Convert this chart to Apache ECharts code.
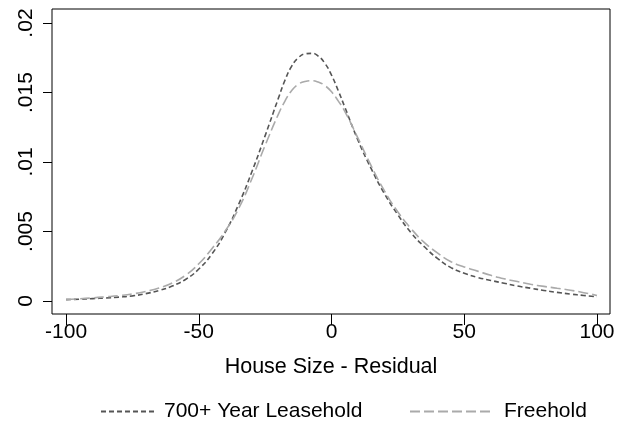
<!DOCTYPE html>
<html>
<head>
<meta charset="utf-8">
<script src="https://cdn.jsdelivr.net/npm/echarts@6/dist/echarts.min.js"></script>
<style>
  html, body { margin: 0; padding: 0; background: #fff; }
  #chart { width: 626px; height: 423px; }
</style>
</head>
<body>
<div id="chart"></div>
<script>
// residual grid (x) and kernel density values
const xValues = [-100, -95, -90, -85, -80, -75, -70, -65, -60, -55, -50, -45, -40, -35, -30, -25, -20, -17.5, -15, -12.5, -10, -7.5, -5, -2.5, 0, 2.5, 5, 10, 15, 20, 25, 30, 35, 40, 45, 50, 55, 60, 65, 70, 75, 80, 85, 90, 95, 100];
const leasehold = [0.00010, 0.00013, 0.00017, 0.00022, 0.00028, 0.00037, 0.00053, 0.00075, 0.00108, 0.00155, 0.00230, 0.00340, 0.00495, 0.00695, 0.00930, 0.01190, 0.01460, 0.01590, 0.01690, 0.01750, 0.01778, 0.01782, 0.01762, 0.01710, 0.01625, 0.01515, 0.01395, 0.01155, 0.00950, 0.00770, 0.00620, 0.00490, 0.00390, 0.00305, 0.00240, 0.00200, 0.00170, 0.00148, 0.00128, 0.00108, 0.00092, 0.00076, 0.00062, 0.00050, 0.00040, 0.00030];
const freehold = [0.00012, 0.00016, 0.00022, 0.00030, 0.00039, 0.00051, 0.00069, 0.00093, 0.00130, 0.00185, 0.00268, 0.00378, 0.00505, 0.00665, 0.00880, 0.01120, 0.01345, 0.01440, 0.01515, 0.01560, 0.01580, 0.01585, 0.01575, 0.01550, 0.01505, 0.01440, 0.01365, 0.01170, 0.00970, 0.00790, 0.00640, 0.00520, 0.00420, 0.00345, 0.00283, 0.00245, 0.00215, 0.00185, 0.00160, 0.00140, 0.00120, 0.00105, 0.00092, 0.00078, 0.00060, 0.00040];
const xTicks = [-100, -50, 0, 50, 100];
const yTicks = [0, 0.005, 0.01, 0.015, 0.02];
const yTickLabels = ["0", ".005", ".01", ".015", ".02"];

const font = "Liberation Sans";
const pair = (arr) => xValues.map((x, i) => [x, arr[i]]);

const chart = echarts.init(document.getElementById("chart"));
const legendText = { color: "#000", fontSize: 21, fontFamily: font, padding: [0, 0, 0, 5] };
const option = {
  animation: false,
  grid: {
    left: 52,
    right: 16,
    top: 9,
    bottom: 109,
    show: true,
    borderColor: "#000",
    borderWidth: 1,
    backgroundColor: "#fff",
  },
  xAxis: {
    type: "value",
    min: -105.3,
    max: 104.9,
    name: "House Size - Residual",
    nameLocation: "middle",
    nameGap: 42,
    nameTextStyle: { color: "#000", fontSize: 21.5, fontFamily: font },
    axisLine: { show: false, onZero: false },
    splitLine: { show: false },
    axisTick: {
      show: true,
      length: 11,
      lineStyle: { color: "#000", width: 1 },
      customValues: xTicks,
    },
    axisLabel: {
      color: "#000",
      fontSize: 21,
      fontFamily: font,
      margin: 8,
      customValues: xTicks,
    },
  },
  yAxis: {
    type: "value",
    min: -0.000935,
    max: 0.02101,
    axisLine: { show: false, onZero: false },
    splitLine: { show: false },
    axisTick: {
      show: true,
      length: 9,
      lineStyle: { color: "#000", width: 1 },
      customValues: yTicks,
    },
    axisLabel: {
      color: "#000",
      fontSize: 21,
      fontFamily: font,
      rotate: 90,
      margin: 15,
      customValues: yTicks,
      formatter: (v) => {
        const i = yTicks.findIndex((t) => Math.abs(t - v) < 1e-9);
        return i >= 0 ? yTickLabels[i] : "";
      },
    },
  },
  legend: [
    {
      data: ["700+ Year Leasehold"],
      left: 95,
      top: 396,
      itemWidth: 53,
      itemHeight: 14,
      itemStyle: { opacity: 0 },
      textStyle: legendText,
    },
    {
      data: ["Freehold"],
      left: 404,
      top: 396,
      itemWidth: 84,
      itemHeight: 14,
      itemStyle: { opacity: 0 },
      textStyle: legendText,
    },
  ],
  series: [
    {
      name: "700+ Year Leasehold",
      type: "line",
      smooth: true,
      symbol: "none",
      data: pair(leasehold),
      lineStyle: { color: "#555", width: 1.6, type: [5, 3] },
      itemStyle: { color: "#555" },
    },
    {
      name: "Freehold",
      type: "line",
      smooth: true,
      symbol: "none",
      data: pair(freehold),
      lineStyle: { color: "#aaa", width: 1.6, type: [10, 4] },
      itemStyle: { color: "#aaa" },
    },
  ],
};
chart.setOption(option);
</script>
</body>
</html>
